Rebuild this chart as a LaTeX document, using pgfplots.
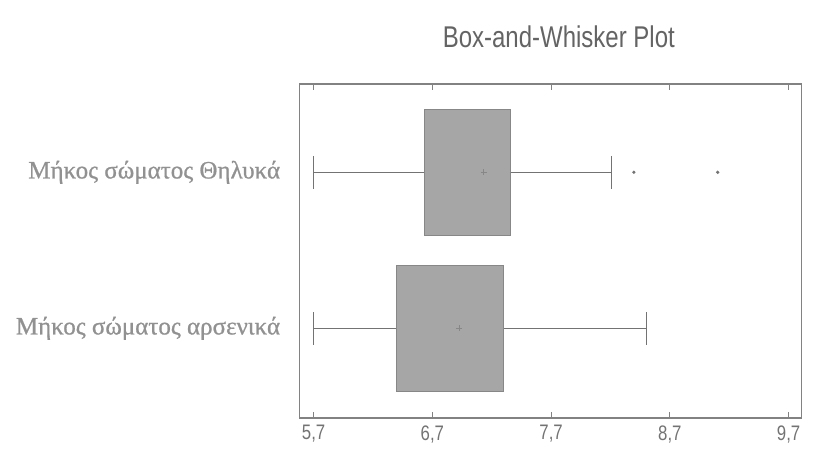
\documentclass[border=0pt]{standalone}
\usepackage{fontspec}
\usepackage{pgfplots}
\pgfplotsset{compat=1.18}
\usepgfplotslibrary{statistics}
\newfontfamily\narrowsans[FakeStretch=0.8]{Liberation Sans}
\newfontfamily\greekserif[FakeBold=0.8]{Liberation Serif}
\definecolor{framec}{RGB}{130,130,130}
\definecolor{boxfill}{RGB}{166,166,166}
\definecolor{boxedge}{RGB}{135,135,135}
\definecolor{whisk}{RGB}{115,115,115}
\definecolor{labc}{RGB}{145,145,145}
\definecolor{tickc}{RGB}{115,115,115}
\definecolor{titc}{RGB}{100,100,100}
\begin{document}
\begin{tikzpicture}
\begin{axis}[
  scale only axis,
  width=502pt, height=334pt,
  xmin=5.579, xmax=9.807,
  ymin=0.425, ymax=2.566,
  axis line style={framec, line width=1.3pt},
  xtick={5.7,6.7,7.7,8.7,9.7},
  xtick pos=both,
  tick align=inside,
  major tick length=6pt,
  x tick style={framec, line width=1.2pt},
  ytick={1,2},
  yticklabels={Μήκος σώματος αρσενικά, Μήκος σώματος Θηλυκά},
  y tick style={draw=none},
  ytick pos=left,
  yticklabel style={font=\greekserif\fontsize{25}{29}\selectfont, text=labc, inner sep=0pt, xshift=-19pt},
  xticklabel style={font=\narrowsans\fontsize{21}{25}\selectfont, text=tickc, yshift=-4pt},
  /pgf/number format/assume math mode=true,
  /pgf/number format/.cd, fixed, fixed zerofill, precision=1, use comma,
  /pgfplots/.cd,
  boxplot/draw direction=x,
  boxplot/draw/median/.code={},
  clip=false,
]
% Female (top)
\addplot[draw=boxedge, fill=boxfill, line width=1pt,
  mark=*, mark size=1.1pt, mark options={fill=whisk, draw=whisk},
  boxplot prepared={
    lower whisker=5.7, lower quartile=6.634, median=6.634,
    upper quartile=7.362, upper whisker=8.209,
    draw position=2, box extend=0.81, whisker extend=0.21},
  boxplot/every whisker/.style={draw=whisk, line width=1pt},
] table[row sep=\\, y index=0] {8.397\\9.103\\};
% Male (bottom)
\addplot[draw=boxedge, fill=boxfill, line width=1pt,
  boxplot prepared={
    lower whisker=5.7, lower quartile=6.401, median=6.401,
    upper quartile=7.295, upper whisker=8.503,
    draw position=1, box extend=0.81, whisker extend=0.21},
  boxplot/every whisker/.style={draw=whisk, line width=1pt},
] coordinates {};
% Means
\addplot[only marks, mark=+, mark size=3pt, draw=boxedge, line width=0.5pt]
  coordinates {(7.132,2) (6.922,1)};
\node[font=\narrowsans\fontsize{30}{36}\selectfont, text=titc]
  at (rel axis cs:0.517,1) [yshift=47pt] {Box-and-Whisker Plot};
\end{axis}
\pgfresetboundingbox
\path (0,0) ++(-299.3pt,-34pt) rectangle ++(817pt,452pt);
\end{tikzpicture}
\end{document}
